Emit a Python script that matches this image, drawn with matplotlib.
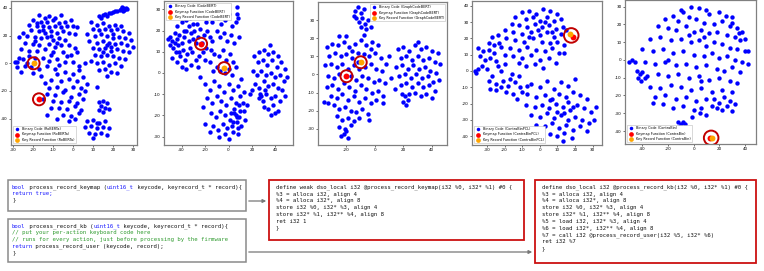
import matplotlib
matplotlib.use('Agg')
import matplotlib.pyplot as plt
from matplotlib.patches import Rectangle

plt.rcParams['axes.unicode_minus'] = False

# ---------------- data ----------------
p1_points = [
    (24,39),(25,40),(26,39),(25,38),(24.5,40.5),(26.5,40),(25.5,38.5),(23.5,38.5),(27,39.5),
    (13,34),(15,35),(16,35.5),(18,36),(19,36.5),(20,37),(21,37.5),(22,38),(14,33),(17,34.5),
    (-17,35),(-14,33),(-12,34),(-9,33),(-6,35),(-20,31),(-16,30),(-13,30),(-10,31),(-7,29),(-4,30),(-1,31),
    (-22,28),(-18,27),(-15,27),(-12,26),(-9,27),(-6,26),(-3,27),(0,27),(2,26),(-25,22),(-21,24),(-17,23),
    (-14,22),(-11,23),(-8,22),(-5,23),(-2,22),(1,21),(-27,19),(-23,20),(-19,19),(-16,18),(-13,19),(-10,17),
    (-7,18),(-4,17),(-24,15),(-20,14),(-17,13),(-12,14),(-9,12),(-6,13),(-2,13),(1,11),(-26,10),(-22,9),
    (-18,9),(-14,10),(-10,8),(-5,8),(-1,6),(2,8),(-28,1),(-25,3),(-22,5),(-19,4),(-15,4),(-12,2),(-8,3),
    (-4,1),(-24,-2),(-21,-3),(-17,-4),(-13,-2),(-9,-4),(-20,-7),(-16,-9),(-29,1),(-27,4),(-23,0),(-11,6),
    (-7,-1),(-3,5),(0,1),(-18,29),(-15,24),(-19,16),(-11,20),(-8,15),
    (9,30),(12,28),(15,29),(18,27),(21,28),(24,27),(10,25),(13,24),(16,25),(19,24),(22,25),(25,23),(28,22),
    (7,21),(11,20),(14,21),(17,20),(20,21),(23,19),(26,18),(29,17),(8,16),(12,15),(15,16),(18,15),(21,14),
    (24,15),(27,13),(30,12),(10,11),(13,10),(16,11),(19,9),(22,10),(25,9),(28,8),(11,6),(14,5),(17,6),
    (20,5),(23,4),(26,3),(9,2),(12,0),(15,1),(18,-1),(21,0),(24,-2),(13,-5),(16,-4),(19,-6),(22,-7),
    (6,0),(17,-9),(3,-2),(17,13),(19,12),(15,8),(20,18),
    (-8,-8),(-4,-6),(0,-8),(3,-5),(-11,-12),(-6,-13),(-2,-11),(2,-13),(5,-10),(-12,-18),(-8,-17),(-4,-19),
    (0,-17),(4,-18),(-13,-22),(-9,-23),(-5,-21),(-1,-24),(3,-22),(6,-20),(-10,-27),(-6,-28),(-2,-27),
    (2,-29),(5,-26),(-7,-32),(-3,-33),(1,-31),(4,-34),(-11,-32),(-5,-37),(-1,-38),(3,-36),(-8,-40),
    (-2,-42),(1,-40),(-13,-37),(-15,-26),(-14,-14),(7,-15),(12,-17),
    (13,-28),(15,-27),(17,-29),(14,-31),(16,-32),(13,-34),(15,-35),(18,-33),
    (7,-42),(10,-41),(13,-43),(16,-42),(6,-46),(9,-45),(12,-47),(15,-46),(18,-47),(8,-50),(11,-51),
    (14,-50),(17,-52),(10,-54),(12,-43),(-26,-6),(-28,-3),
]
p2_points = [
    (-50,17),(-48,15),(-46,19),(-44,16),(-42,18),(-40,14),(-47,12),(-45,10),(-43,13),(-38,17),(-36,20),
    (-34,22),(-32,19),(-30,16),(-39,11),(-41,8),(-37,6),(-35,9),(-33,12),(-31,10),(-28,14),(-26,17),
    (-29,20),(-44,22),(-40,24),(-36,25),(-33,26),(-30,23),(-48,7),(-44,5),(-40,3),(-36,2),(-32,4),
    (-28,6),(-25,8),(-22,10),(-26,3),(-20,6),(-23,14),(-50,13),(-52,16),(-46,14),(-42,10),(-38,20),
    (-34,15),(-27,23),(-24,21),(-21,18),(-18,20),(-16,17),(-14,15),(-19,12),(-15,11),
    (-18,27),(-14,24),(-12,29),(-9,26),(-6,23),(-3,25),(0,28),(3,22),(6,24),(7,31),(7,28),(8,26),
    (-10,20),(-7,17),(-4,19),(-1,15),(2,18),(5,14),(9,17),(-12,9),(-8,8),(-5,11),(-2,6),(1,9),(4,5),
    (-10,3),(-7,1),(-3,0),(0,2),(3,-1),(6,3),(-16,5),(-13,1),(-19,24),
    (-20,-5),(-16,-8),(-12,-4),(-8,-6),(-4,-9),(0,-5),(4,-8),(8,-6),(11,-3),(-18,-12),(-14,-14),
    (-10,-11),(-6,-13),(-2,-15),(2,-12),(6,-14),(10,-11),(13,-9),(-15,-19),(-11,-21),(-7,-18),
    (-3,-20),(1,-22),(5,-19),(9,-21),(13,-18),(16,-15),(-13,-25),(-9,-27),(-5,-24),(-1,-26),(3,-25),
    (7,-23),(11,-25),(14,-22),(-16,-28),(-8,-30),(-3,-29),(0,-31),(4,-28),(8,-29),(-22,-16),(-20,-24),
    (2,-19),(6,-20),(10,-18),(4,-23),(8,-26),(12,-14),(18,-10),(-24,-2),(5,-17),(9,-15),(7,-21),
    (22,8),(26,10),(30,11),(34,9),(38,10),(42,8),(25,5),(29,6),(33,4),(37,6),(41,3),(45,5),(48,2),
    (21,1),(24,-1),(28,1),(32,-1),(36,0),(40,-2),(44,-1),(47,-4),(50,-2),(23,-5),(26,-7),(30,-4),
    (34,-6),(38,-5),(42,-7),(46,-8),(27,-10),(28,-11),(26,-12),(29,-13),(32,-10),(36,-12),(40,-11),
    (44,-13),(48,-11),(30,-16),(34,-17),(38,-15),(42,-18),(36,-20),(40,-19),(20,-8),(35,13),(31,-8),
]
p3_points = [
    (-14,35),(-12,37),(-10,34),(-8,36),(-13,31),(-11,29),(-9,31),(-7,28),(-5,30),(-6,25),(-3,26),
    (-10,26),(-15,32),
    (-34,15),(-30,17),(-26,16),(-22,18),(-18,15),(-14,17),(-10,19),(-6,16),(-2,18),(2,16),(-32,10),
    (-28,12),(-24,10),(-20,11),(-16,9),(-12,12),(-8,11),(-4,10),(0,12),(4,9),(-35,5),(-31,6),(-27,4),
    (-23,6),(-19,3),(-15,5),(-11,3),(-7,4),(-3,6),(1,3),(5,2),(-33,-1),(-29,-2),(-25,0),(-17,-1),
    (-13,-3),(-9,-1),(-5,-2),(-1,-4),(3,-3),(7,-5),(-34,-7),(-30,-6),(-26,-8),(-22,-5),(-18,-7),
    (-14,-9),(-10,-6),(-6,-8),(-2,-10),(2,-9),(6,-12),(-31,-12),(-27,-13),(-23,-11),(-19,-14),
    (-15,-12),(-11,-15),(-7,-13),(-3,-16),(1,-14),(-29,-17),(-25,-19),(-21,-18),(-17,-20),(-13,-21),
    (-9,-19),(-5,-22),(-33,-16),(-27,-23),(-23,-25),(-19,-24),(-15,-26),(-11,-24),(-25,-29),(-21,-30),
    (-17,-28),(-22,-33),(-19,-35),(-24,-34),(-20,-31),(-36,-15),(-8,22),(-20,21),(-25,21),(8,6),
    (6,-16),(-4,-25),(-16,13),(-12,7),(-3,14),
    (16,14),(20,15),(24,13),(28,16),(32,14),(36,15),(40,13),(44,12),(18,9),(22,10),(26,8),(30,10),
    (34,8),(38,9),(42,7),(46,6),(15,4),(19,5),(23,3),(27,5),(31,3),(35,4),(39,2),(43,1),(17,-1),
    (21,0),(25,-2),(29,0),(33,-2),(37,-1),(41,-4),(45,-3),(18,-6),(22,-5),(26,-7),(30,-5),(34,-7),
    (38,-6),(42,-9),(19,-11),(21,-12),(23,-14),(20,-15),(22,-17),(24,-11),(28,-10),(32,-12),(36,-11),
    (40,-13),(14,-8),(30,18),(10,10),(11,-2),
]
p4_points = [
    (-10,36),(-6,37),(-2,35),(2,38),(6,37),(10,35),(-14,33),(-8,32),(-4,33),(0,31),(4,33),(8,31),
    (12,32),(-16,29),(-12,28),(-7,27),(-3,29),(1,27),(5,28),(9,26),(13,27),(-20,25),(-15,24),(-10,23),
    (-5,24),(0,22),(4,24),(8,21),(12,23),(15,25),(-19,20),(-14,19),(-9,18),(-4,20),(1,18),(6,17),
    (10,18),(14,16),(-22,15),(-17,14),(-12,13),(-7,15),(-2,13),(3,12),(7,14),(11,11),(-20,10),(-15,9),
    (-10,8),(-5,10),(0,7),(5,8),(9,5),(-8,3),(-3,4),(2,2),(-12,5),(14,11),(-24,22),(-27,21),(3,30),
    (-1,25),(7,24),(-6,21),
    (-35,14),(-32,12),(-29,13),(-26,11),(-34,9),(-31,7),(-28,8),(-25,6),(-33,3),(-30,1),(-37,0),
    (-36,-1),(-35,1),(-24,3),(-27,-3),(-22,0),(-29,-6),(-25,-8),(-21,-6),(-18,-9),(-14,-7),(-11,-10),
    (-16,-2),(-12,-3),(-28,-11),(-25,-12),(-22,-10),(-19,-13),(-15,-14),(-10,-13),(-7,-9),(-13,-17),
    (-26,16),(-23,17),(-29,17),(-20,4),(-17,-5),
    (-5,-8),(0,-10),(4,-6),(8,-11),(12,-7),(16,-9),(20,-5),(-7,-14),(-2,-16),(3,-15),(7,-17),(11,-14),
    (15,-16),(19,-13),(23,-15),(27,-17),(-3,-22),(1,-21),(5,-23),(9,-20),(13,-22),(17,-24),(21,-21),
    (25,-23),(29,-25),(32,-22),(-5,-27),(0,-28),(4,-26),(8,-29),(12,-27),(16,-30),(20,-28),(24,-30),
    (28,-32),(31,-30),(-2,-33),(3,-34),(7,-32),(11,-35),(15,-33),(19,-36),(23,-34),(27,-37),(6,-39),
    (10,-40),(14,-38),(18,-41),(-3,-37),(13,-43),(-8,-21),(16,-19),(10,-25),(6,-18),(14,-26),(19,-22),
]
p5_points = [
    (-2,30),(4,29),(-8,27),(12,26),(20,27),(25,25),(30,24),(-16,25),(-22,23),(-12,22),(-4,24),(2,23),
    (8,21),(16,20),(22,22),(28,19),(34,18),(38,16),(-28,19),(-20,18),(-14,17),(-6,19),(0,16),(6,17),
    (12,15),(18,16),(26,14),(32,13),(36,11),(-34,12),(-26,13),(-18,11),(-10,12),(-2,10),(4,11),(10,8),
    (16,10),(22,9),(28,7),(34,6),(40,5),(-40,6),(-32,5),(-24,6),(-16,4),(-8,5),(0,3),(8,2),(14,4),
    (20,1),(26,2),(32,0),(38,-1),(42,-2),(-46,-1),(-38,-1),(-30,-2),(-22,-1),(-14,-3),(-6,-2),(2,-4),
    (10,-3),(18,-5),(24,-6),(30,-4),(36,-7),(-44,-6),(-42,-8),(-40,-7),(-38,-10),(-43,-10),(-41,-12),
    (-36,-9),(-28,-8),(-20,-9),(-12,-8),(-4,-10),(4,-9),(12,-11),(20,-10),(28,-12),(34,-13),(-34,-15),
    (-26,-16),(-18,-14),(-10,-15),(-2,-17),(6,-16),(14,-18),(22,-17),(30,-18),(-30,-21),(-22,-20),
    (-14,-22),(-6,-21),(2,-23),(10,-22),(16,-22),(20,-24),(24,-21),(28,-23),(32,-25),(18,-27),(22,-28),
    (26,-26),(30,-29),(14,-26),(-24,-25),(-16,-27),(-8,-26),(0,-28),(6,-27),(-12,-35),(-10,-36),
    (-8,-35),(-11,-37),(-7,-36),(-1,-32),(5,-30),(10,-31),(-48,0),(-50,-1),(42,5),(40,12),(-32,-24),
    (-10,28),(10,28),(30,21),(35,15),(-4,14),(8,13),(-20,0),(6,-12),
]

keymap_points = [(-17, -26), (-23.4, 13.8), (-20, -1), (18.7, 21), (13, -44)]
keyrecord_points = [(-19.7, 0), (-3.7, 2.3), (-10, 6.7), (17, 22.7), (14.3, -43.7)]
model_names = ["RoBERTa", "CodeBERT", "GraphCodeBERT", "ContraBinPCL", "ContraBin"]
single_ring = [False, False, False, True, True]

xlims = [(-31, 32), (-55, 55), (-40, 50.6), (-38.5, 35.3), (-53.5, 48.6)]
ylims = [(-59, 45), (-34, 34), (-39, 40), (-45.5, 43), (-47.3, 33.75)]
xticks = [[-30, -20, -10, 0, 10, 20, 30], [-40, -20, 0, 20, 40], [-20, 0, 20, 40],
          [-30, -20, -10, 0, 10, 20, 30], [-40, -20, 0, 20, 40]]
yticks = [[-40, -20, 0, 20, 40], [-30, -20, -10, 0, 10, 20, 30], [-30, -20, -10, 0, 10, 20, 30],
          [-40, -30, -20, -10, 0, 10, 20, 30, 40], [-40, -30, -20, -10, 0, 10, 20, 30]]
legend_locs = ["lower left", "upper left", "upper right", "lower left", "lower left"]

code_kbmap_c = [
    [("bool", "b"), (" process_record_keymap (", "k"), ("uint16_t", "b"), (" keycode, keyrecord_t * record){", "k")],
    [("return true;", "b")],
    [("}", "k")],
]
code_kb_c = [
    [("bool", "b"), (" process_record_kb (", "k"), ("uint16_t", "b"), (" keycode, keyrecord_t * record){", "k")],
    [("// put your per-action keyboard code here", "g")],
    [("// runs for every action, just before processing by the firmware", "g")],
    [("return", "b"), (" process_record_user (keycode, record);", "k")],
    [("}", "k")],
]
code_kbmap_ir = [
    "define weak dso_local i32 @process_record_keymap(i32 %0, i32* %1) #0 {",
    "%3 = alloca i32, align 4",
    "%4 = alloca i32*, align 8",
    "store i32 %0, i32* %3, align 4",
    "store i32* %1, i32** %4, align 8",
    "ret i32 1",
    "}",
]
code_kb_ir = [
    "define dso_local i32 @process_record_kb(i32 %0, i32* %1) #0 {",
    "%3 = alloca i32, align 4",
    "%4 = alloca i32*, align 8",
    "store i32 %0, i32* %3, align 4",
    "store i32* %1, i32** %4, align 8",
    "%5 = load i32, i32* %3, align 4",
    "%6 = load i32*, i32** %4, align 8",
    "%7 = call i32 @process_record_user(i32 %5, i32* %6)",
    "ret i32 %7",
    "}",
]

# ---------------- figure ----------------
W, H = 764, 271
fig = plt.figure(figsize=(W / 100, H / 100), dpi=100)

panel_px = [(11, 1, 137, 145), (164, 1, 293, 145), (318, 2, 447, 145),
            (472, 1, 602, 145), (625, 0, 756, 144)]

for i in range(5):
    l, t, r, b = panel_px[i]
    ax = fig.add_axes([l / W, 1 - b / H, (r - l) / W, (b - t) / H])
    pts = [p1_points, p2_points, p3_points, p4_points, p5_points][i]
    xs = [p[0] for p in pts]
    ys = [p[1] for p in pts]
    name = model_names[i]
    ax.scatter(xs, ys, s=10, c='blue', linewidths=0, label=f"Binary Code ({name})", zorder=2)
    kx, ky = keymap_points[i]
    rx, ry = keyrecord_points[i]
    ax.scatter([kx], [ky], s=18, c='red', linewidths=0, label=f"Keymap Function ({name})", zorder=3)
    ax.scatter([rx], [ry], s=18, c='orange', linewidths=0, label=f"Key Record Function ({name})", zorder=3)
    if single_ring[i]:
        ax.scatter([(kx + rx) / 2], [(ky + ry) / 2], s=110, facecolors='none',
                   edgecolors='#c00000', linewidths=1.4, zorder=4)
    else:
        ax.scatter([kx, rx], [ky, ry], s=75, facecolors='none',
                   edgecolors='#c00000', linewidths=1.4, zorder=4)
    ax.set_xlim(*xlims[i])
    ax.set_ylim(*ylims[i])
    ax.set_xticks(xticks[i])
    ax.set_yticks(yticks[i])
    ax.tick_params(labelsize=3, length=1.5, width=0.4, pad=0.8)
    for sp in ax.spines.values():
        sp.set_color('#808080')
        sp.set_linewidth(0.9)
    leg = ax.legend(loc=legend_locs[i], fontsize=2.4, markerscale=0.8, handletextpad=0.3,
                    borderpad=0.4, labelspacing=0.45, framealpha=1, borderaxespad=0.5)
    leg.get_frame().set_linewidth(0.4)
    leg.get_frame().set_edgecolor('#bbbbbb')

# overlay for code boxes
ov = fig.add_axes([0, 0, 1, 1])
ov.set_xlim(0, W)
ov.set_ylim(H, 0)
ov.axis('off')

colors = {"b": "#1a1aff", "k": "#111111", "g": "#2e9a2e"}
fs = 4.05
cw = 0.602 * fs * 100 / 72  # px per monospace character

def box(x0, y0, x1, y1, ec, lw):
    ov.add_patch(Rectangle((x0, y0), x1 - x0, y1 - y0, facecolor='white', edgecolor=ec, linewidth=lw))

def colored_lines(lines, x, y0, dy):
    for j, segs in enumerate(lines):
        off = 0
        for txt, c in segs:
            ov.text(x + off * cw, y0 + j * dy, txt, fontsize=fs, family='DejaVu Sans Mono',
                    color=colors[c], va='center', ha='left')
            off += len(txt)

def plain_lines(lines, x, y0, dy):
    for j, txt in enumerate(lines):
        ov.text(x, y0 + j * dy, txt, fontsize=fs, family='DejaVu Sans Mono',
                color='#111111', va='center', ha='left')

# arrows
ov.annotate("", xy=(269, 201), xytext=(246, 201),
            arrowprops=dict(arrowstyle='-|>', color='#777777', lw=0.9, mutation_scale=5))
ov.annotate("", xy=(535, 252), xytext=(246, 252),
            arrowprops=dict(arrowstyle='-|>', color='#777777', lw=0.9, mutation_scale=5))

box(7.5, 180, 246, 211, '#8a8a8a', 1.1)
colored_lines(code_kbmap_c, 12, 187.3, 6.4)
box(7.5, 218.5, 246, 262, '#8a8a8a', 1.1)
colored_lines(code_kb_c, 12, 226, 6.7)
box(269, 180, 524, 239.5, '#cc1111', 1.3)
plain_lines(code_kbmap_ir, 275.7, 187.3, 6.8)
box(535, 180, 756, 262.5, '#cc1111', 1.3)
plain_lines(code_kb_ir, 541.7, 187.3, 6.8)

fig.savefig('out.png', dpi=100)
